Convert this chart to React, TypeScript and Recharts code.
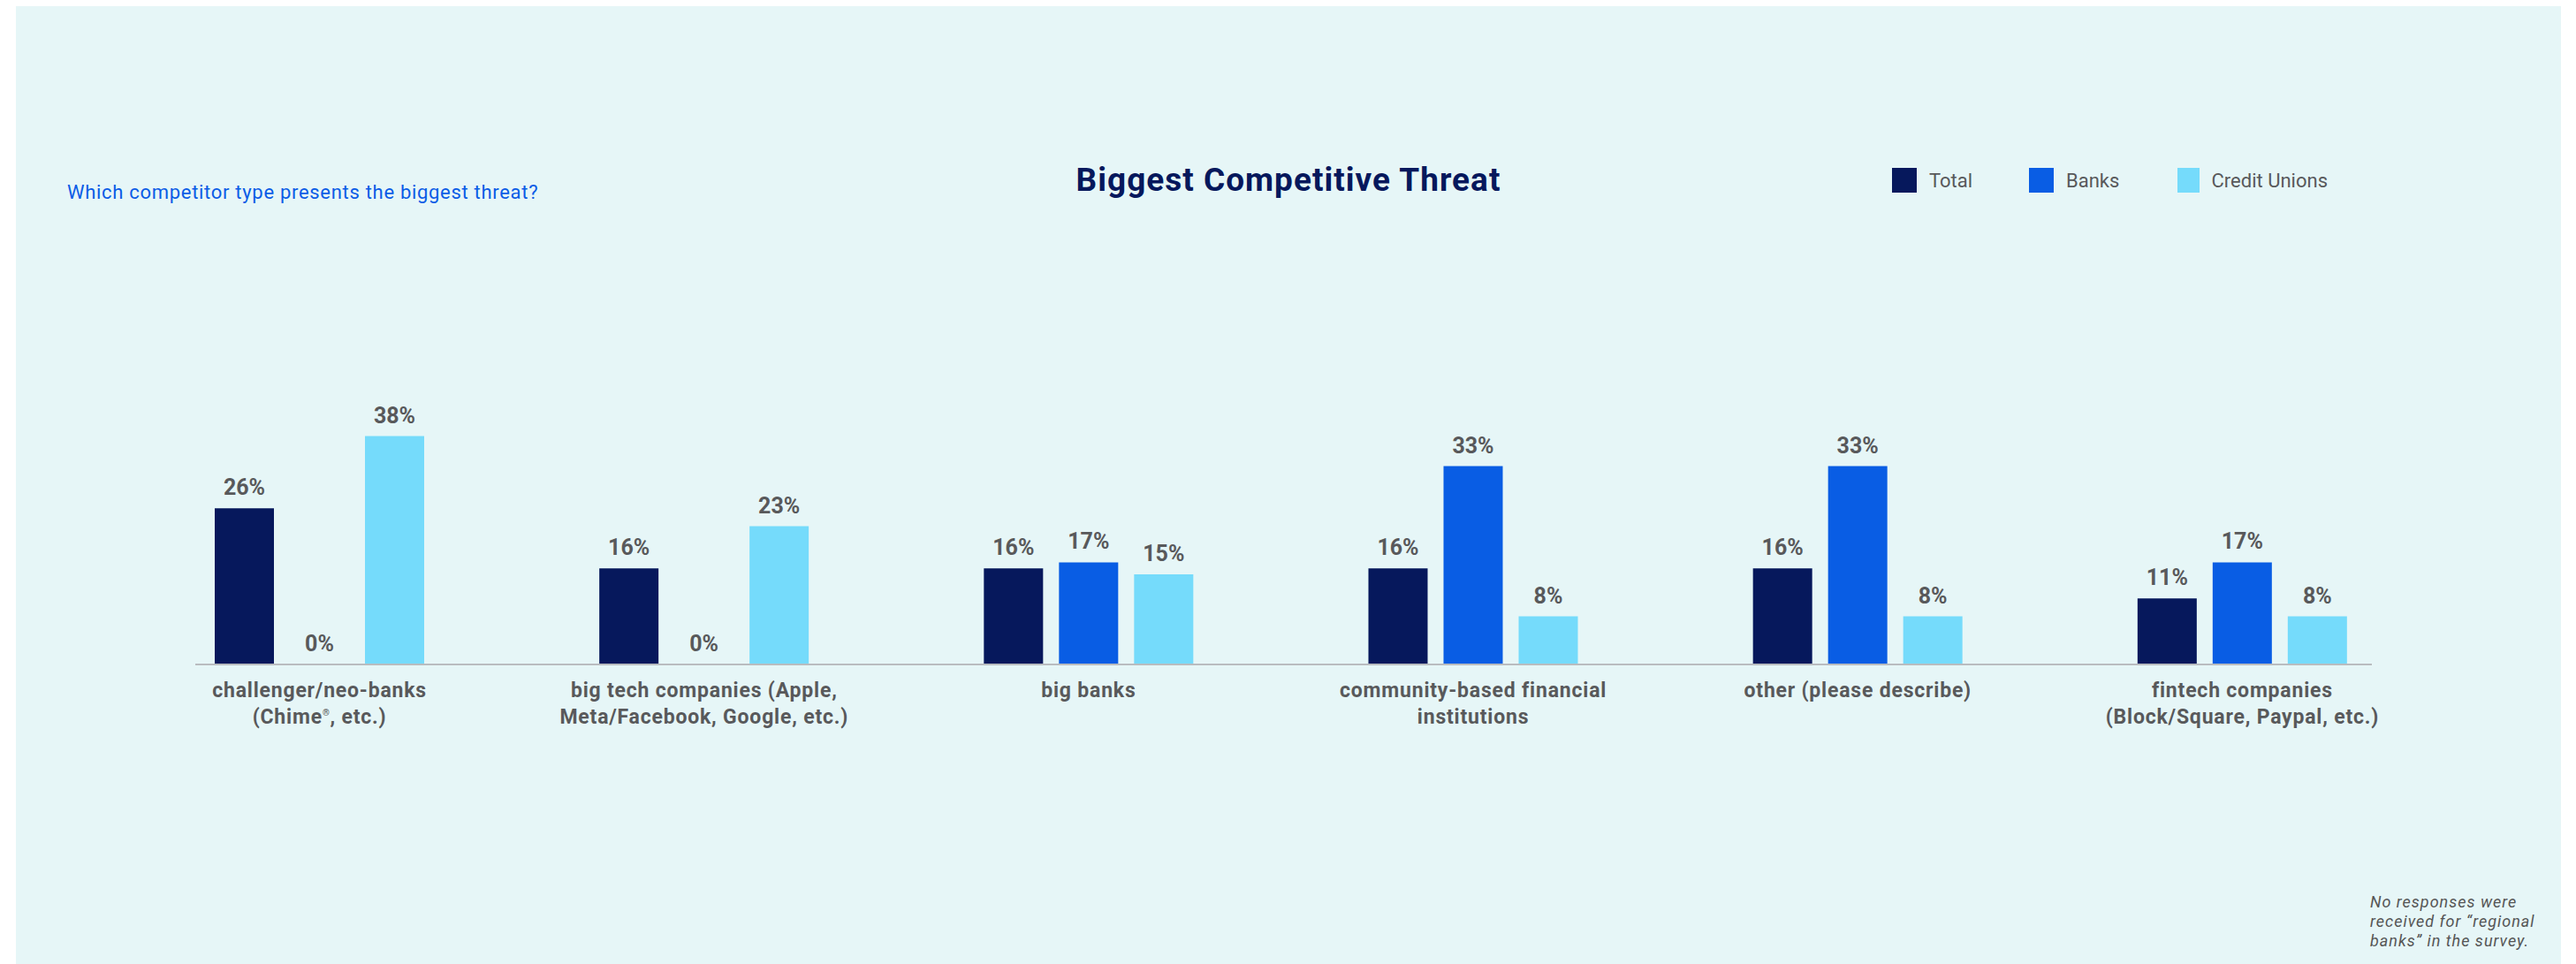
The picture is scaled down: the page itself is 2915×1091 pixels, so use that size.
import React from 'react';
import { BarChart, Bar, XAxis, YAxis, Legend, LabelList } from 'recharts';

// categories as they appear under the axis (line breaks kept from the original)
const categories = [
    'challenger/neo-banks (Chime®, etc.)',
    'big tech companies (Apple, Meta/Facebook, Google, etc.)',
    'big banks',
    'community-based financial institutions',
    'other (please describe)',
    'fintech companies (Block/Square, Paypal, etc.)',
];
const tickLines = [
    ['challenger/neo-banks', '(Chime®, etc.)'],
    ['big tech companies (Apple,', 'Meta/Facebook, Google, etc.)'],
    ['big banks'],
    ['community-based financial', 'institutions'],
    ['other (please describe)'],
    ['fintech companies', '(Block/Square, Paypal, etc.)'],
];

// percent of respondents
const total = [26, 16, 16, 16, 16, 11];
const banks = [0, 0, 17, 33, 33, 17];
const creditUnions = [38, 23, 15, 8, 8, 8];

const footnote = ['No responses were', 'received for \u201cregional', 'banks\u201d in the survey.'];

const series = [
    { key: 'Total', color: '#06185c' },
    { key: 'Banks', color: '#095de4' },
    { key: 'Credit Unions', color: '#75dbfb' },
];

const chartData = categories.map((name, i) => ({
    name,
    Total: total[i],
    Banks: banks[i],
    'Credit Unions': creditUnions[i],
}));

const GRAY = '#58595b';
const FONT = 'Roboto, "Open Sans", sans-serif';

const renderLine = (line: string) => {
    if (!line.includes('®')) return line;
    const [before, after] = line.split('®');
    return (
        <>
            <tspan>{before}</tspan>
            <tspan fontSize={10} dy={-9}>®</tspan>
            <tspan dy={9}>{after}</tspan>
        </>
    );
};

const CategoryTick = (props: any) => {
    const { x, y, payload } = props;
    const lines = tickLines[payload.index] ?? [String(payload.value)];
    return (
        <g>
            {lines.map((line, i) => (
                <text
                    key={i}
                    x={x}
                    y={y + 37 + i * 30}
                    textAnchor="middle"
                    fill={GRAY}
                    fontFamily={FONT}
                    fontSize={23}
                    fontWeight={700}
                    letterSpacing={0.8}
                >
                    {renderLine(line)}
                </text>
            ))}
        </g>
    );
};

const legendWidths = [155, 168, 170];

const LegendContent = (props: any) => {
    const payload = [...(props.payload || [])].sort(
        (a: any, b: any) =>
            series.findIndex(s => s.key === a.value) - series.findIndex(s => s.key === b.value)
    );
    return (
        <div style={{ display: 'flex', alignItems: 'center', whiteSpace: 'nowrap' }}>
            {payload.map((entry: any, i: number) => (
                <div key={entry.value} style={{ display: 'flex', alignItems: 'center', width: legendWidths[i] }}>
                    <span style={{ width: 28, height: 28, background: entry.color, display: 'inline-block' }} />
                    <span style={{ marginLeft: 14, fontFamily: FONT, fontSize: 22, color: GRAY }}>{entry.value}</span>
                </div>
            ))}
        </div>
    );
};

// zero values still need their "0%" label, so give them an invisible sliver
const zeroSliver = (v: number) => (v === 0 ? 0.01 : 0);

export default function App() {
    return (
        <div style={{ position: 'absolute', left: 0, top: 0, width: 2915, height: 1091, background: '#fff' }}>
            <div style={{ position: 'absolute', left: 18, top: 7, width: 2880, height: 1084, background: '#e6f6f7' }} />
            <svg width={2915} height={1091} style={{ position: 'absolute', left: 0, top: 0 }}>
                <text x={1458} y={216} textAnchor="middle" fontFamily={FONT} fontWeight={700} fontSize={37} fill="#06185c" letterSpacing={1}>
                    Biggest Competitive Threat
                </text>
                <text x={76} y={225} fontFamily={FONT} fontSize={22} fill="#0b5ce6" letterSpacing={0.7}>
                    Which competitor type presents the biggest threat?
                </text>
                {footnote.map((line, i) => (
                    <text key={i} x={2682} y={1027 + i * 22} fontFamily={FONT} fontStyle="italic" fontSize={18} fill="#555" letterSpacing={1}>
                        {line}
                    </text>
                ))}
            </svg>
            <div style={{ position: 'absolute', left: 0, top: 0 }}>
                <BarChart
                    width={2915}
                    height={1091}
                    data={chartData}
                    margin={{ top: 480, right: 231, bottom: 239, left: 221 }}
                    barSize={67}
                    barGap={18}
                >
                    <XAxis
                        dataKey="name"
                        height={100}
                        padding={{ left: -77, right: -71 }}
                        axisLine={{ stroke: '#b9bcbf', strokeWidth: 2 }}
                        tickLine={false}
                        tickSize={0}
                        tickMargin={0}
                        interval={0}
                        tick={<CategoryTick />}
                    />
                    <YAxis hide width={0} domain={[0, 40]} />
                    <Legend
                        layout="vertical"
                        align="center"
                        verticalAlign="middle"
                        wrapperStyle={{ top: 190, left: 2141, width: 'auto' }}
                        content={<LegendContent />}
                    />
                    {series.map(s => (
                        <Bar key={s.key} dataKey={s.key} fill={s.color} minPointSize={zeroSliver} isAnimationActive={false}>
                            <LabelList
                                dataKey={s.key}
                                position="top"
                                offset={15}
                                formatter={(v: any) => `${v}%`}
                                fill={GRAY}
                                fontFamily={FONT}
                                fontSize={25}
                                fontWeight={700}
                            />
                        </Bar>
                    ))}
                </BarChart>
            </div>
        </div>
    );
}
